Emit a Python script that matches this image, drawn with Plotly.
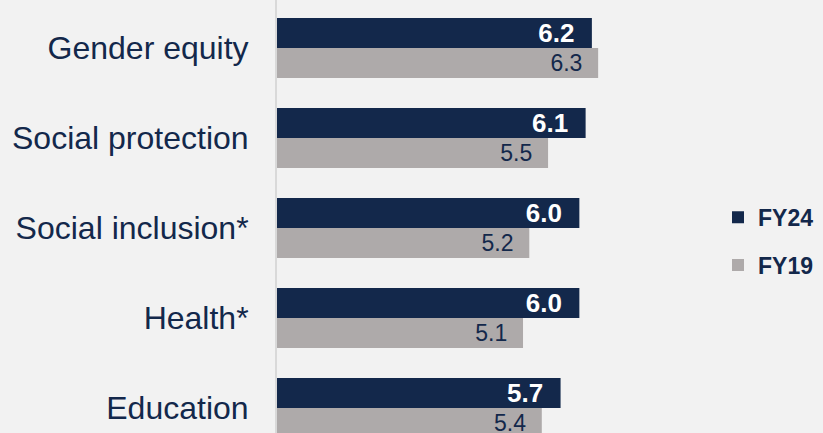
import plotly.graph_objects as go

categories = ["Gender equity", "Social protection", "Social inclusion*", "Health*", "Education"]
fy24 = [6.2, 6.1, 6.0, 6.0, 5.7]
fy19 = [6.3, 5.5, 5.2, 5.1, 5.4]
series_names = ["FY24", "FY19"]

NAVY = "#13284B"
GRAY = "#AEAAAA"
BG = "#F2F2F2"
FONT = "Arial, Liberation Sans, sans-serif"
NB = "\u00a0\u00a0"

fig = go.Figure()
fig.add_trace(go.Bar(
    y=categories, x=fy24, name=series_names[0], orientation="h",
    marker=dict(color=NAVY, line=dict(width=0)),
    text=[f"{v:.1f}{NB}" for v in fy24], textposition="inside", insidetextanchor="end",
    textangle=0, constraintext="none",
    textfont=dict(family=FONT, size=26, color="white", weight="bold"),
    legendgroup="a", hoverinfo="skip",
))
fig.add_trace(go.Bar(
    y=categories, x=fy19, name=series_names[1], orientation="h",
    marker=dict(color=GRAY, line=dict(width=0)),
    text=[f"{v:.1f}{NB}" for v in fy19], textposition="inside", insidetextanchor="end",
    textangle=0, constraintext="none",
    textfont=dict(family=FONT, size=23, color=NAVY),
    legendgroup="b", hoverinfo="skip",
))

W, H = 823, 433
L, R = 277, 123
plot_w = W - L - R
px_per_unit = 62.6
x0 = 1.17
x1 = x0 + plot_w / px_per_unit

fig.update_layout(
    width=W, height=H,
    margin=dict(l=L, r=R, t=0, b=0, autoexpand=False),
    paper_bgcolor=BG, plot_bgcolor=BG,
    barmode="group", bargap=1/3, bargroupgap=0,
    font=dict(family=FONT, color=NAVY),
    showlegend=True,
    legend=dict(
        x=(718 - L) / plot_w, xanchor="left", y=1 - 241.2 / H, yanchor="middle",
        bgcolor="rgba(0,0,0,0)", font=dict(family=FONT, size=23, color=NAVY, weight="bold"),
        traceorder="grouped", tracegroupgap=15,
    ),
    xaxis=dict(range=[x0, x1], showgrid=False, zeroline=False, showticklabels=False,
               showline=False, fixedrange=True),
    yaxis=dict(
        categoryorder="array", categoryarray=categories,
        range=[4.278, -0.533], autorange=False,
        showgrid=False, zeroline=False,
        showline=True, linecolor="#D9D9D9", linewidth=2,
        ticks="", ticklabelstandoff=20,
        tickfont=dict(family=FONT, size=32, color=NAVY),
    ),
)

fig.write_html("out.html", config={"displayModeBar": False, "staticPlot": True})

with open("out.html", "r", encoding="utf-8") as f:
    html = f.read()
html = html.replace("<head>", "<head><style>html,body{margin:0;padding:0;background:#F2F2F2;overflow:hidden}</style>", 1)
with open("out.html", "w", encoding="utf-8") as f:
    f.write(html)
